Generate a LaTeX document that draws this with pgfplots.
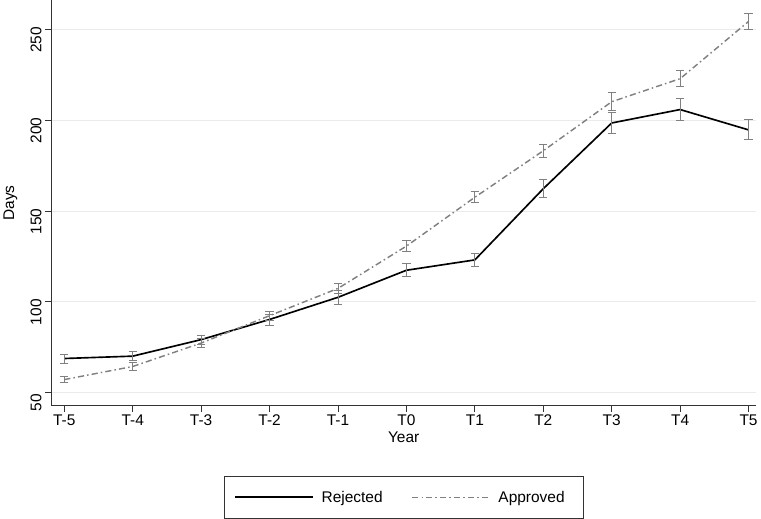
\documentclass[border=0pt]{standalone}
\usepackage{pgfplots}
\pgfplotsset{compat=1.18}
\usepackage{fontspec}
\setmainfont{Liberation Sans}
\begin{document}
\begin{tikzpicture}[x=1pt,y=1pt]
\begin{axis}[
  scale only axis, width=684pt, height=393pt,
  xmin=-0.19, xmax=10.11, ymin=43, ymax=266,
  axis lines=left, axis line style={-,thick,black!80},
  tick align=outside, tick style={black!80,thick},
  major tick length=6pt,
  xtick={0,...,10}, xticklabels={T-5,T-4,T-3,T-2,T-1,T0,T1,T2,T3,T4,T5},
  ytick={50,100,150,200,250},
  yticklabel style={rotate=90,anchor=south,xshift=-10pt},
  ymajorgrids, grid style={black!8,thick},
  xlabel={Year}, ylabel={Days},
  xlabel style={yshift=1pt},
  ylabel style={yshift=6pt},
  tick label style={font=\fontsize{15}{17}\selectfont},
  label style={font=\fontsize{15}{17}\selectfont},
  /pgf/number format/assume math mode=true,
  legend style={at={(0.5,-0.175)},anchor=north,legend columns=2,
    draw=black!80,font=\fontsize{15}{17}\selectfont,
    inner xsep=10pt,inner ysep=12pt,
    nodes={inner xsep=8pt},
    /tikz/every even column/.append style={column sep=20pt}},
  legend image code/.code={\draw[#1] (0pt,0pt) -- (75pt,0pt);},
  error bars/error bar style={gray,thick,solid},
  error bars/error mark options={gray,thick,solid,rotate=90,mark size=4pt},
]
\addplot[black,line width=1.6pt,error bars/.cd,y dir=both,y explicit] coordinates {
(0,68.8)+-(0,2.5) (1,70.1)+-(0,2.5) (2,79.2)+-(0,2.5) (3,90.3)+-(0,3) (4,102.5)+-(0,4)
(5,117.4)+-(0,3.5) (6,123.1)+-(0,3.5) (7,162.3)+-(0,5) (8,198.5)+-(0,6)
(9,205.9)+-(0,6) (10,194.7)+-(0,5.5)};
\addlegendentry{Rejected}
\addplot[gray,line width=1.4pt,dash pattern=on 6pt off 3pt on 1.5pt off 3pt,error bars/.cd,y dir=both,y explicit] coordinates {
(0,57.2)+-(0,1.5) (1,64.4)+-(0,2) (2,77.3)+-(0,2.5) (3,92.4)+-(0,2.5) (4,107.4)+-(0,3)
(5,130.7)+-(0,3) (6,157.6)+-(0,3) (7,183.2)+-(0,3.5) (8,210.2)+-(0,5)
(9,222.9)+-(0,4.5) (10,254.4)+-(0,4.5)};
\addlegendentry{Approved}
\end{axis}
\end{tikzpicture}
\end{document}
